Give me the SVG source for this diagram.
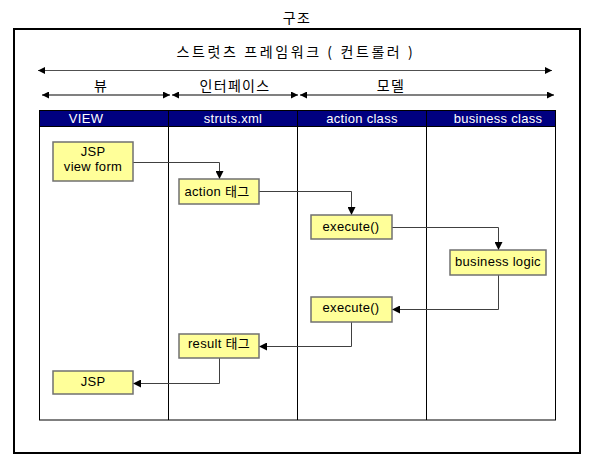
<svg xmlns="http://www.w3.org/2000/svg" width="592" height="465" viewBox="0 0 592 465">
<style>
.t{font-family:"Liberation Sans","Noto Sans CJK KR",sans-serif;font-size:13px;letter-spacing:0.3px;fill:#000;text-anchor:middle}
.k{font-family:"Noto Sans CJK KR","Liberation Sans",sans-serif;font-size:14px;letter-spacing:1.3px;fill:#000;text-anchor:middle}
.h{font-family:"Liberation Sans",sans-serif;font-size:13px;letter-spacing:0.3px;fill:#fff;text-anchor:middle}
.box{fill:#ffff99;stroke:#707070;stroke-width:1.5}
.ln{fill:none;stroke:#000;stroke-width:1}
.c{fill:none;stroke:#404040;stroke-width:1}
.a1{fill:none;stroke:#505050;stroke-width:1.2}
.a2{fill:none;stroke:#808080;stroke-width:2}
</style>
<defs>
<marker id="ah" viewBox="0 0 10 10" refX="10" refY="5" markerWidth="7" markerHeight="7" markerUnits="userSpaceOnUse" orient="auto-start-reverse"><path d="M0,0L10,5L0,10z" fill="#000"/></marker>
<marker id="ca" viewBox="0 0 10 10" refX="10" refY="5" markerWidth="8" markerHeight="8" markerUnits="userSpaceOnUse" orient="auto"><path d="M0,0L10,5L0,10z" fill="#000"/></marker>
</defs>
<rect width="592" height="465" fill="#fff"/>
<text class="k" x="297" y="23">구조</text>
<rect x="14" y="29" width="566" height="424" fill="none" stroke="#000" stroke-width="2"/>
<text class="k" x="296" y="57" style="letter-spacing:2.6px">스트럿츠 프레임워크 ( 컨트롤러 )</text>
<g id="scope-arrows">
<line x1="38" y1="70.5" x2="552" y2="70.5" class="a1" marker-start="url(#ah)" marker-end="url(#ah)"/>
<line x1="42" y1="95" x2="170" y2="95" class="a2" marker-start="url(#ah)" marker-end="url(#ah)"/>
<line x1="172" y1="95" x2="298" y2="95" class="a2" marker-start="url(#ah)" marker-end="url(#ah)"/>
<line x1="300" y1="95" x2="554" y2="95" class="a2" marker-start="url(#ah)" marker-end="url(#ah)"/>
<text class="k" x="101" y="91">뷰</text>
<text class="k" x="235" y="91">인터페이스</text>
<text class="k" x="391" y="91">모델</text>
</g>
<g id="table">
<rect x="39.5" y="110.5" width="516" height="16" fill="#000080" stroke="#000"/>
<rect x="39.5" y="110.5" width="516" height="309.5" class="ln"/>
<line x1="168.5" y1="110.5" x2="168.5" y2="420" class="ln"/>
<line x1="297.5" y1="110.5" x2="297.5" y2="420" class="ln"/>
<line x1="426.5" y1="110.5" x2="426.5" y2="420" class="ln"/>
<text class="h" x="86" y="123">VIEW</text>
<text class="h" x="233" y="123">struts.xml</text>
<text class="h" x="362" y="123">action class</text>
<text class="h" x="498" y="123">business class</text>
</g>
<g id="connectors">
<polyline points="133,162.5 219.5,162.5 219.5,179" class="c" marker-end="url(#ca)"/>
<polyline points="259,191.5 351.5,191.5 351.5,215" class="c" stroke="#606060" marker-end="url(#ca)"/>
<polyline points="392,227.5 498.5,227.5 498.5,250" class="c" marker-end="url(#ca)"/>
<polyline points="498.5,275 498.5,309.5 392,309.5" class="c" stroke="#606060" marker-end="url(#ca)"/>
<polyline points="351.5,322 351.5,346.5 259,346.5" class="c" marker-end="url(#ca)"/>
<polyline points="219.5,358 219.5,383.5 133,383.5" class="c" marker-end="url(#ca)"/>
</g>
<g id="n-jsp-form"><rect x="53" y="142" width="80" height="39" class="box"/><text class="t" x="93" y="156">JSP</text><text class="t" x="93" y="171">view form</text></g>
<g id="n-action-tag"><rect x="179" y="179" width="80" height="25" class="box"/><text class="t" x="217" y="196">action 태그</text></g>
<g id="n-execute1"><rect x="311" y="215" width="81" height="24" class="box"/><text class="t" x="351" y="231">execute()</text></g>
<g id="n-business"><rect x="450" y="250" width="96" height="25" class="box"/><text class="t" x="498" y="266">business logic</text></g>
<g id="n-execute2"><rect x="311" y="297" width="81" height="25" class="box"/><text class="t" x="351" y="312">execute()</text></g>
<g id="n-result-tag"><rect x="179" y="334" width="80" height="24" class="box"/><text class="t" x="219" y="348">result 태그</text></g>
<g id="n-jsp"><rect x="53" y="371" width="80" height="23" class="box"/><text class="t" x="93" y="386">JSP</text></g>
</svg>
